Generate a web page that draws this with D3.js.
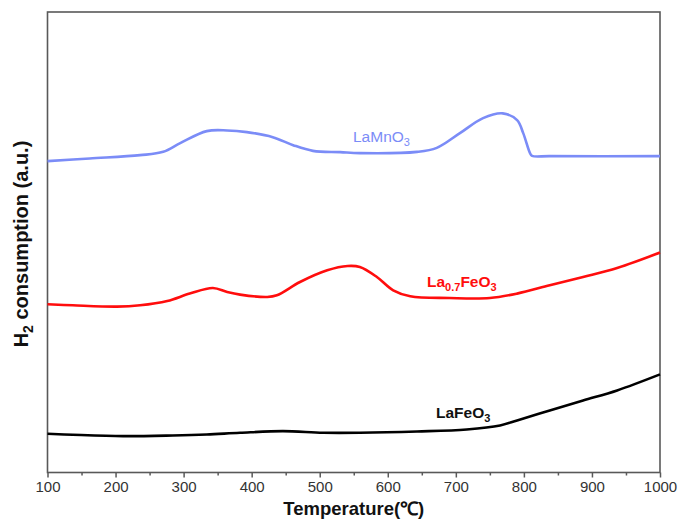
<!DOCTYPE html>
<html><head><meta charset="utf-8">
<script src="https://cdn.jsdelivr.net/npm/d3@7"></script>
<style>body{margin:0;background:#fff;} text{font-family:"Liberation Sans",Arial,sans-serif;}</style>
</head><body><svg id="c" width="679" height="519"></svg>
<script>
const temps_LaMnO3 = [100,162,236,270,295,334,364,393,431,461,490,530,559,643,672,706,740,769,790,799,809,812,838,1000];
const vals_LaMnO3  = [311,313.7,317,320.3,329,341,341.7,340,335,327,321.3,320,319,320.3,324.3,339,354,358.7,352,339,319,316.3,316,316];
const temps_La07FeO3 = [100,137,202,236,276,309,343,364,383,423,437,471,511,541,559,584,608,633,691,750,790,838,887,937,1000];
const vals_La07FeO3  = [168,167,165.7,167,171.3,178.7,184.3,180.3,177.7,175.3,177,190.3,202,206.3,205.3,195.3,182,176,174.3,174.3,178.7,187,195.3,204.3,219.7];
const temps_LaFeO3 = [100,137,211,284,334,383,446,505,559,643,716,765,790,838,887,937,1000];
const vals_LaFeO3  = [38.7,37.7,36.3,37,38,39.7,41.3,39.7,39.7,41,43,47,52,62,72,82,98];
const xTicks = [100,200,300,400,500,600,700,800,900,1000];
const xMinorTicks = [150,250,350,450,550,650,750,850,950];

const svg = d3.select("#c");
const L=47.5, R=660, T=12, B=472.5;
const x = d3.scaleLinear().domain([100,1000]).range([L,R]);
const y = d3.scaleLinear().domain([0,460]).range([B,T]);
const axisColor="#595959";

// frame
svg.append("rect").attr("x",L).attr("y",T).attr("width",R-L).attr("height",B-T)
  .attr("fill","none").attr("stroke",axisColor).attr("stroke-width",1.6);

// minor ticks
const gx = svg.append("g").attr("transform",`translate(0,${B})`);
gx.call(d3.axisBottom(x).tickValues(xMinorTicks).tickSize(3).tickFormat(""))
  .call(g=>g.select(".domain").remove());
gx.selectAll("line").attr("stroke",axisColor).attr("stroke-width",1.5);
const gx2 = svg.append("g").attr("transform",`translate(0,${B})`);
gx2.call(d3.axisBottom(x).tickValues(xTicks).tickSize(5).tickPadding(4).tickFormat(d3.format("d")))
  .call(g=>g.select(".domain").remove());
gx2.selectAll("line").attr("stroke",axisColor).attr("stroke-width",1.5);
gx2.selectAll("text").attr("font-size",15).attr("fill","#333")
  .attr("font-family","'Liberation Sans',Arial,sans-serif");

// axis titles
svg.append("text").attr("x",(L+R)/2).attr("y",515).attr("text-anchor","middle")
  .attr("font-size",18.5).attr("font-weight","bold").attr("fill","#111").text("Temperature(℃)");
const yt = svg.append("text").attr("transform",`translate(28,244) rotate(-90)`).attr("text-anchor","middle")
  .attr("font-size",20).attr("font-weight","bold").attr("fill","#111");
yt.append("tspan").text("H");
yt.append("tspan").attr("font-size",14).attr("dy",5).text("2");
yt.append("tspan").attr("dy",-5).text(" consumption (a.u.)");

// lines
const line = d3.line().curve(d3.curveCatmullRom.alpha(0.5));
function draw(ts, vs, color){
  svg.append("path").datum(ts.map((t,i)=>[x(t),y(vs[i])]))
    .attr("d",line).attr("fill","none").attr("stroke",color).attr("stroke-width",2.6)
    .attr("stroke-linejoin","round");
}
draw(temps_LaMnO3, vals_LaMnO3, "#7b8cf7");
draw(temps_La07FeO3, vals_La07FeO3, "#ff0d0d");
draw(temps_LaFeO3, vals_LaFeO3, "#000");

// labels
function label(xp, yp, parts, color, bold){
  const t = svg.append("text").attr("x",xp).attr("y",yp).attr("fill",color)
    .attr("font-size",15.5).attr("font-weight",bold?"bold":"normal");
  let sub=false;
  parts.forEach(p=>{
    const s = t.append("tspan").text(p.t);
    if(p.sub && !sub){ s.attr("font-size",11).attr("dy",4); sub=true; }
    else if(!p.sub && sub){ s.attr("dy",-4); sub=false; }
  });
}
label(353, 142, [{t:"LaMnO"},{t:"3",sub:true}], "#7b8cf7", false);
label(427, 287, [{t:"La"},{t:"0.7",sub:true},{t:"FeO"},{t:"3",sub:true}], "#ff0d0d", true);
label(436, 418, [{t:"LaFeO"},{t:"3",sub:true}], "#111", true);
</script></body></html>
